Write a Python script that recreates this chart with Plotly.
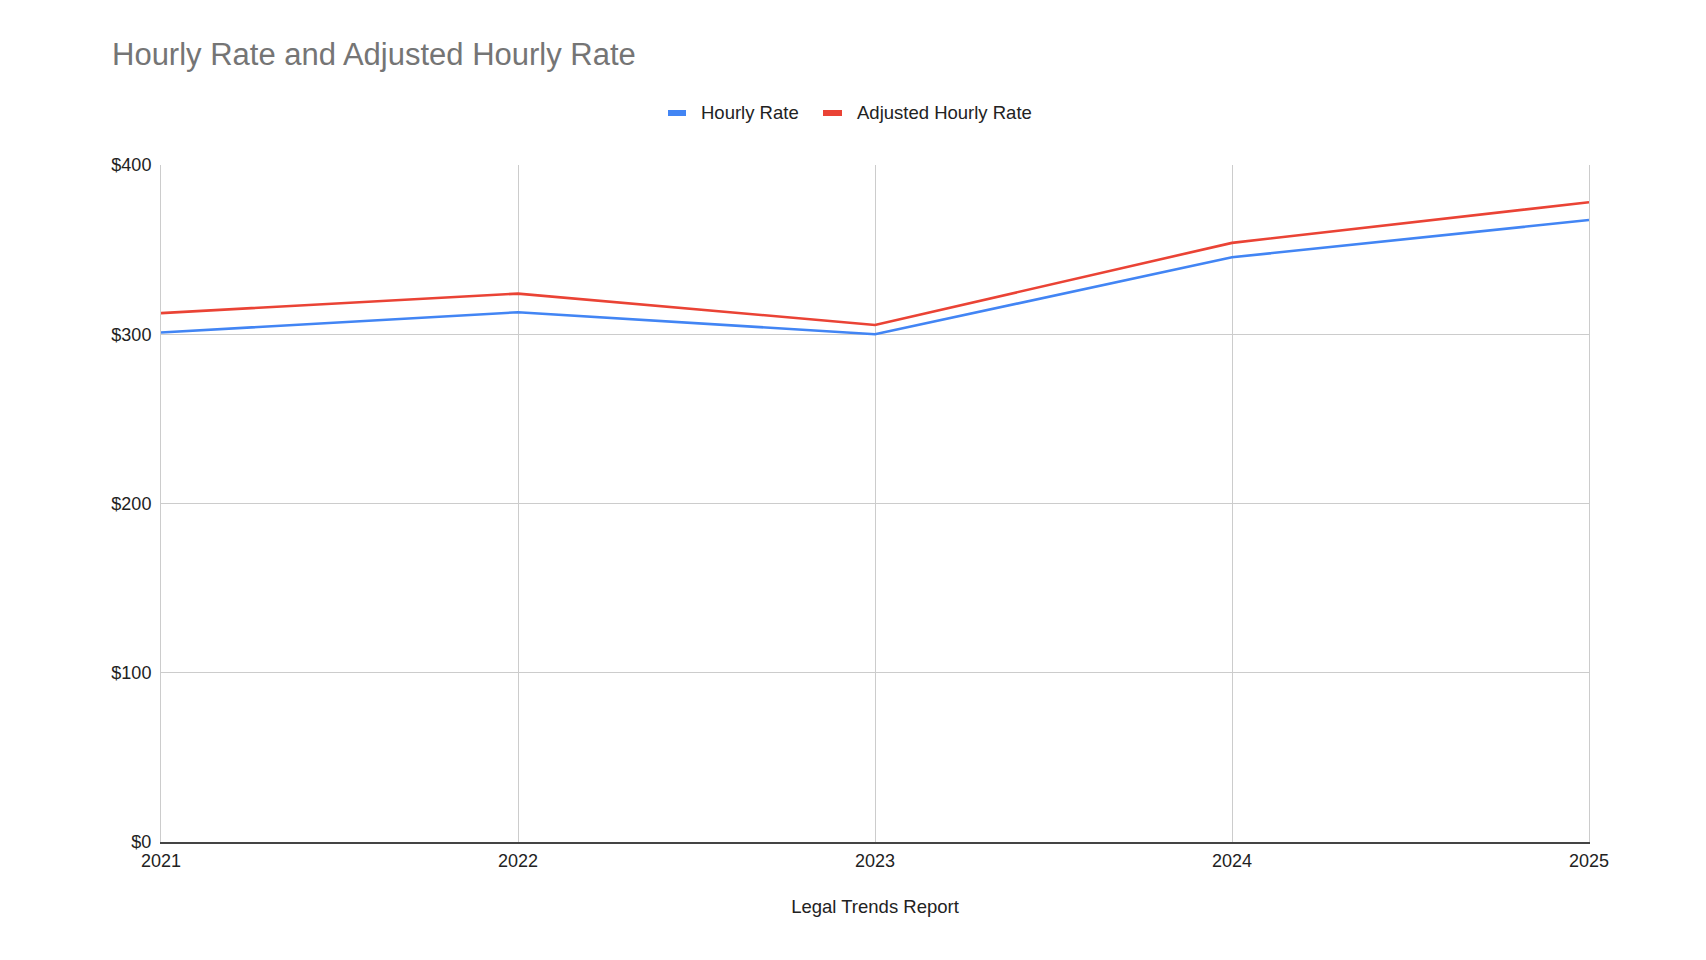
import plotly.graph_objects as go

years = [2021, 2022, 2023, 2024, 2025]
hourly_rate = [301, 313, 300, 345.5, 367.5]
adjusted_hourly_rate = [312.5, 324, 305.5, 354, 378]
series_names = ["Hourly Rate", "Adjusted Hourly Rate"]
y_ticks = [0, 100, 200, 300, 400]
y_tick_labels = ["$0", "$100", "$200", "$300", "$400"]
x_tick_labels = [str(y) for y in years]

BLUE = "#4285F4"
RED = "#EA4335"
FONT = "Liberation Sans, Arial, sans-serif"

W, H = 1706, 960
L, R, T, B = 153, 1581, 157, 834

def px(x):
    return (x - L) / (R - L)

def py(y):
    return (B - y) / (B - T)

fig = go.Figure()
fig.add_trace(go.Scatter(x=years, y=hourly_rate, mode="lines", name=series_names[0],
                         line=dict(color=BLUE, width=2.6), showlegend=False))
fig.add_trace(go.Scatter(x=years, y=adjusted_hourly_rate, mode="lines", name=series_names[1],
                         line=dict(color=RED, width=2.6), showlegend=False))

# custom legend (swatch + label)
legend_items = [(series_names[0], BLUE, 660, 678, 691), (series_names[1], RED, 815, 834, 847)]
for name, col, x0, x1, tx in legend_items:
    fig.add_shape(type="rect", xref="paper", yref="paper",
                  x0=px(x0), x1=px(x1), y0=py(108), y1=py(102),
                  fillcolor=col, line=dict(width=0))
    fig.add_annotation(text=name, xref="paper", yref="paper", x=px(tx), y=py(105),
                       xanchor="left", yanchor="middle", showarrow=False,
                       font=dict(family=FONT, size=18.5, color="#222222"))

fig.update_layout(
    width=W, height=H,
    margin=dict(l=L, r=W - R, t=T, b=H - B, pad=0),
    paper_bgcolor="white", plot_bgcolor="white",
    font=dict(family=FONT, size=18, color="#222222"),
    title=dict(text="Hourly Rate and Adjusted Hourly Rate", x=104 / W, xref="container",
               xanchor="left", y=1 - 46 / H, yref="container", yanchor="middle",
               font=dict(family=FONT, size=31, color="#757575")),
    showlegend=False,
)
fig.update_xaxes(
    type="linear", range=[years[0], years[-1]], tickvals=years, ticktext=x_tick_labels,
    showgrid=True, gridcolor="#cccccc", gridwidth=1,
    showline=True, linecolor="#444444", linewidth=2, zeroline=False,
    ticks="", ticklabelstandoff=1,
    tickfont=dict(family=FONT, size=18, color="#222222"),
    title=dict(text="Legal Trends Report", standoff=30,
               font=dict(family=FONT, size=18.5, color="#222222")),
)
fig.update_yaxes(
    range=[0, 400], tickvals=y_ticks, ticktext=y_tick_labels,
    showgrid=True, gridcolor="#cccccc", gridwidth=1,
    showline=True, mirror=True, linecolor="#cccccc", linewidth=1, zeroline=False,
    ticks="", ticklabelstandoff=5,
    tickfont=dict(family=FONT, size=18, color="#222222"),
)

fig.write_html("out.html")
